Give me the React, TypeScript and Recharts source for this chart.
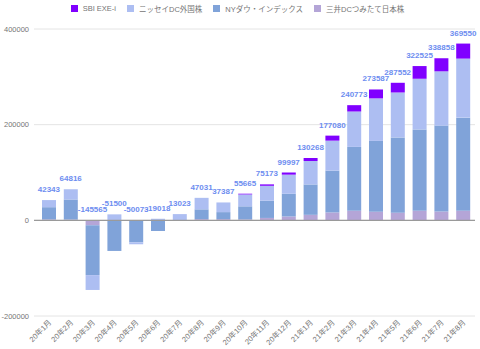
import React from "react";
import { ComposedChart, Bar, Line, XAxis, YAxis, CartesianGrid, Legend, LabelList, ReferenceLine } from "recharts";

const months = ["20年1月", "20年2月", "20年3月", "20年4月", "20年5月", "20年6月", "20年7月", "20年8月", "20年9月", "20年10月", "20年11月", "20年12月", "21年1月", "21年2月", "21年3月", "21年4月", "21年5月", "21年6月", "21年7月", "21年8月"];
const mitsui = [2000, 1500, -10300, -1200, -600, 0, 0, 2500, 2500, 2000, 5000, 8000, 11500, 16500, 20000, 18000, 16000, 20000, 18500, 20000];
const nyDow = [25500, 41800, -104200, -62800, -45300, -22318, 0, 20500, 14700, 27300, 36000, 47500, 63500, 87400, 133500, 148000, 157300, 170000, 179500, 194700];
const nissay = [14843, 21516, -31065, 12500, -4173, 3300, 13023, 24031, 20187, 24865, 31173, 40000, 49000, 62700, 74000, 89000, 94000, 106000, 113500, 123400];
const sbi = [0, 0, 0, 0, 0, 0, 0, 0, 0, 1500, 3000, 4497, 6268, 10480, 13273, 18587, 20252, 26525, 27358, 31450];
const totals = [42343, 64816, -145565, -51500, -50073, -19018, 13023, 47031, 37387, 55665, 75173, 99997, 130268, 177080, 240773, 273587, 287552, 322525, 338858, 369550];
const yTicks = [-200000, 0, 200000, 400000];

const seriesNames = {
  sbi: "SBI EXE-i",
  nissay: "ニッセイDC外国株",
  ny: "NYダウ・インデックス",
  mitsui: "三井DCつみたて日本株",
};
const colors = {
  sbi: "#8000ff",
  nissay: "#adbef2",
  ny: "#80a3d9",
  mitsui: "#b4a5d7",
};

const pos = (v: number) => (v > 0 ? v : 0);

const data = months.map((m, i) => ({
  month: m,
  mitsui: mitsui[i],
  ny: nyDow[i],
  nissay: nissay[i],
  sbi: sbi[i],
  total: totals[i],
  posTop: pos(mitsui[i]) + pos(nyDow[i]) + pos(nissay[i]) + pos(sbi[i]),
}));

const FONT = "'Liberation Sans', Arial, 'Noto Sans CJK JP', sans-serif";

const legendOrder: (keyof typeof colors)[] = ["sbi", "nissay", "ny", "mitsui"];

const renderLegend = () => (
  <div style={{ display: "flex", justifyContent: "center", alignItems: "center", height: 14, fontFamily: FONT, fontSize: 7.5, color: "#757575" }}>
    {legendOrder.map((k, i) => (
      <div key={k} style={{ display: "flex", alignItems: "center", marginLeft: i === 0 ? 0 : 11 }}>
        <div style={{ width: 7, height: 7, background: colors[k], marginRight: 5 }} />
        <span style={{ whiteSpace: "nowrap" }}>{seriesNames[k]}</span>
      </div>
    ))}
  </div>
);

const XTick = (props: any) => {
  const { x, y, payload } = props;
  return (
    <g transform={`translate(${x + 3},${y + 7})`}>
      <text x={0} y={0} transform="rotate(-45)" textAnchor="end" fontSize={7.5} fill="#757575" fontFamily={FONT}>
        {payload.value}
      </text>
    </g>
  );
};

const TotalLabel = (props: any) => {
  const { x, y, index } = props;
  return (
    <text x={x} y={y - 8} textAnchor="middle" fontSize={8} fontWeight="bold" fill="#6d8df0" fontFamily={FONT}>
      {totals[index]}
    </text>
  );
};

export default function App() {
  return (
    <div style={{ position: "absolute", left: 0, top: 0, width: 480, height: 349, background: "#fff" }}>
      <ComposedChart
        width={480}
        height={349}
        data={data}
        stackOffset="sign"
        margin={{ top: 15, right: 5, bottom: 0, left: 0 }}
        barSize={14}
      >
        <Legend verticalAlign="top" content={renderLegend} wrapperStyle={{ top: 1 }} />
        <CartesianGrid horizontal vertical={false} stroke="#e4e4e4" />
        <XAxis
          dataKey="month"
          interval={0}
          tick={<XTick />}
          tickLine={false}
          axisLine={false}
          tickSize={0}
          tickMargin={0}
          height={33}
          padding={{ left: 4, right: 1 }}
        />
        <YAxis
          domain={[-200000, 400000]}
          ticks={yTicks}
          width={34}
          tickLine={false}
          axisLine={false}
          tickSize={0}
          tickMargin={5}
          tick={{ fontSize: 7.5, fill: "#757575", fontFamily: FONT }}
        />
        <ReferenceLine y={0} stroke="#9a9a9a" strokeWidth={1.3} />
        <Bar dataKey="mitsui" name={seriesNames.mitsui} stackId="a" fill={colors.mitsui} isAnimationActive={false} />
        <Bar dataKey="ny" name={seriesNames.ny} stackId="a" fill={colors.ny} isAnimationActive={false} />
        <Bar dataKey="nissay" name={seriesNames.nissay} stackId="a" fill={colors.nissay} isAnimationActive={false} />
        <Bar dataKey="sbi" name={seriesNames.sbi} stackId="a" fill={colors.sbi} isAnimationActive={false} />
        <Line
          dataKey="posTop"
          stroke="none"
          dot={false}
          activeDot={false}
          legendType="none"
          isAnimationActive={false}
        >
          <LabelList dataKey="total" content={<TotalLabel />} />
        </Line>
      </ComposedChart>
    </div>
  );
}
